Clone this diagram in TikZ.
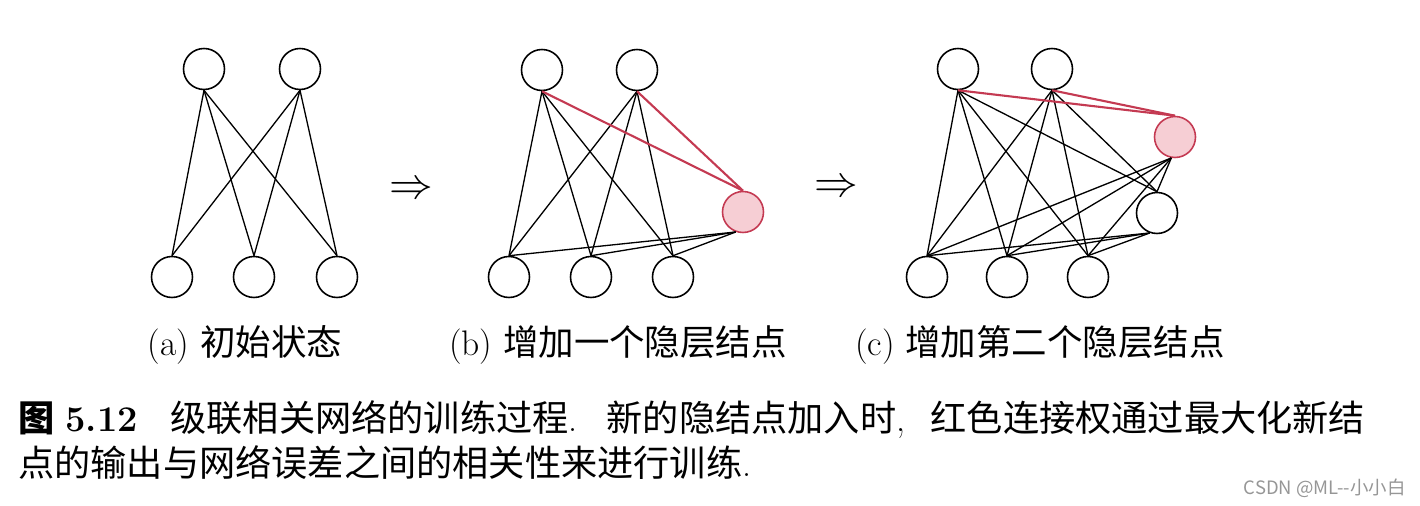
\documentclass[tikz,border=0pt]{standalone}
\usepackage{fontspec}
\newfontfamily\cjk{Noto Sans CJK SC}
\definecolor{redline}{RGB}{196,58,82}
\definecolor{redfill}{RGB}{246,206,212}
\definecolor{wm}{RGB}{150,150,150}
\begin{document}
\begin{tikzpicture}[x=0.02cm,y=-0.02cm,
  neuron/.style={circle,draw=black,line width=0.9pt,minimum size=0.82cm,inner sep=0pt},
  newneuron/.style={neuron,draw=redline,fill=redfill},
  conn/.style={line width=0.75pt,black},
  redconn/.style={line width=1.2pt,redline},
  lab/.style={inner sep=0pt,font=\fontsize{20.2}{24}\selectfont},
  captext/.style={inner sep=0pt,anchor=west,font=\fontsize{20.6}{24}\selectfont}]
\useasboundingbox (0,0) rectangle (1420,506);
% ---------- (a)
\node[neuron] (a1) at (204,69) {};
\node[neuron] (a2) at (300,69) {};
\node[neuron] (ab1) at (172,277) {};
\node[neuron] (ab2) at (254,277) {};
\node[neuron] (ab3) at (337,277) {};
\foreach \t in {a1,a2}{\foreach \b in {ab1,ab2,ab3}{\draw[conn] (\t.south) -- (\b.north);}}
% ---------- arrows
\node[font=\fontsize{23}{23}\selectfont] (r1) at (411,190) {$\Rightarrow$};
\node[font=\fontsize{23}{23}\selectfont] (r2) at (836,188) {$\Rightarrow$};
% ---------- (b)
\node[neuron] (b1) at (542,70) {};
\node[neuron] (b2) at (637,70) {};
\node[neuron] (bb1) at (509,277) {};
\node[neuron] (bb2) at (591,277) {};
\node[neuron] (bb3) at (673,277) {};
\node[newneuron] (bh) at (743,212) {};
\foreach \t in {b1,b2}{\foreach \b in {bb1,bb2,bb3}{\draw[conn] (\t.south) -- (\b.north);}}
\foreach \b in {bb1,bb2,bb3}{\draw[conn] (bh.250) -- (\b.north);}
\draw[redconn] (b1.south) -- (bh.north);
\draw[redconn] (b2.south) -- (bh.north);
% ---------- (c)
\node[neuron] (c1) at (958,69) {};
\node[neuron] (c2) at (1052,69) {};
\node[neuron] (cb1) at (927,277) {};
\node[neuron] (cb2) at (1007,277) {};
\node[neuron] (cb3) at (1088,277) {};
\node[neuron] (ch1) at (1157,213) {};
\node[newneuron] (ch2) at (1175,137) {};
\foreach \t in {c1,c2}{\foreach \b in {cb1,cb2,cb3}{\draw[conn] (\t.south) -- (\b.north);}}
\foreach \t in {c1,c2}{\draw[conn] (\t.south) -- (ch1.north);}
\foreach \b in {cb1,cb2,cb3}{\draw[conn] (ch1.250) -- (\b.north);}
\foreach \b in {cb1,cb2,cb3}{\draw[conn] (ch2.260) -- (\b.north);}
\draw[conn] (ch2.260) -- (ch1.north);
\draw[redconn] (c1.south) -- (ch2.north);
\draw[redconn] (c2.south) -- (ch2.north);
% ---------- labels
\node[lab] (la) at (245,345) {(a) {\cjk 初始状态}};
\node[lab] (lb) at (618,345) {(b) {\cjk 增加一个隐层结点}};
\node[lab] (lc) at (1040,345) {(c) {\cjk 增加第二个隐层结点}};
% ---------- caption
\node[captext] (cap1) at (18,420) {{\cjk\bfseries 图}~\textbf{5.12}\hspace{0.9em}{\cjk 级联相关网络的训练过程}.\hspace{0.4em} {\cjk 新的隐结点加入时},\hspace{0.4em} {\cjk 红色连接权通过最大化新结}};
\node[captext] (cap2) at (18,463) {{\cjk 点的输出与网络误差之间的相关性来进行训练}.};
\node[inner sep=0pt,anchor=east,text=wm,font=\fontsize{10.5}{11}\selectfont] (wmk) at (1406,488) {{\cjk CSDN @ML--小小白}};
\end{tikzpicture}
\end{document}
